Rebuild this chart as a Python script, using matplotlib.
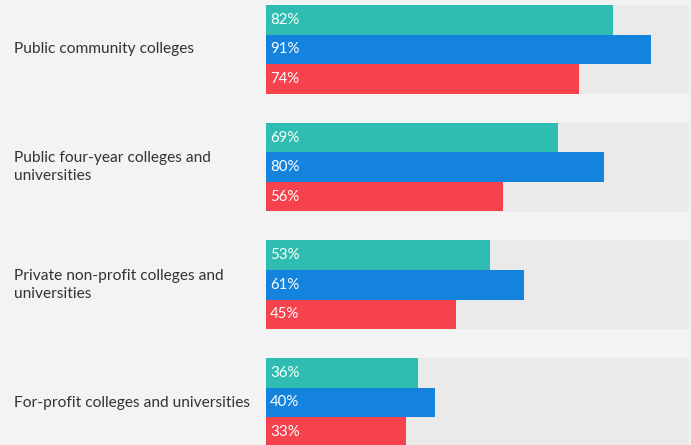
import matplotlib.pyplot as plt

# Share of institutions, by sector, for each of the three series
sectors = ["Public community colleges",
           "Public four-year colleges and\nuniversities",
           "Private non-profit colleges and\nuniversities",
           "For-profit colleges and universities"]
teal_vals = [82, 69, 53, 36]
blue_vals = [91, 80, 61, 40]
red_vals = [74, 56, 45, 33]

colors = ["#2ebdb0", "#1483de", "#f5424d"]
bg = "#f3f3f3"
band = "#eaeaea"

fig = plt.figure(figsize=(6.91, 4.45), dpi=100, facecolor=bg)
ax = fig.add_axes([266 / 691, 0, 423 / 691, 1])
ax.set_facecolor(bg)

bar_h = 29.6
pitch = 117.7
top = 5

for i, name in enumerate(sectors):
    g_top = top + i * pitch
    # light grey track behind each group
    ax.barh(g_top + 1.5 * bar_h, 100, height=3 * bar_h, color=band, zorder=1)
    for j, vals in enumerate([teal_vals, blue_vals, red_vals]):
        y = g_top + (j + 0.5) * bar_h
        ax.barh(y, vals[i], height=bar_h, color=colors[j], zorder=2)
        ax.text(1, y, f"{vals[i]}%", color="white", fontsize=10.8,
                family="Lato", va="center", ha="left", zorder=3)
    ax.text(-252 / 423 * 100, g_top + 1.5 * bar_h, name, color="#333333",
            fontsize=11.2, family="Lato", va="center", ha="left",
            linespacing=1.35, clip_on=False)

ax.set_xlim(0, 100)
ax.set_ylim(445, 0)
ax.axis("off")

fig.savefig("out.png", dpi=100, facecolor=bg)
